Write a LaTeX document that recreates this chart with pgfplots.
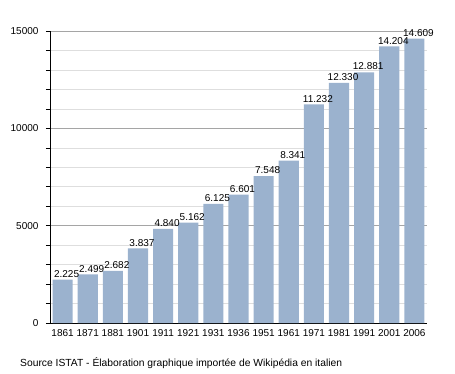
\documentclass[border=0pt]{standalone}
\usepackage{pgfplots}
\pgfplotsset{compat=1.18}
\usepackage{fontspec}
\setmainfont{Liberation Sans}
\definecolor{barblue}{RGB}{155,178,206}
\definecolor{majgrid}{RGB}{165,165,165}
\definecolor{mingrid}{RGB}{222,222,222}
\begin{document}
\begin{tikzpicture}
\path (0pt,0pt) rectangle (455pt,373pt);
\begin{axis}[
  at={(50pt,50pt)}, anchor=south west,
  scale only axis, width=377pt, height=292pt,
  xmin=-0.5, xmax=14.5, ymin=0, ymax=15000,
  axis x line*=bottom, axis y line*=left,
  axis line style={black, -},
  xtick=data,
  xticklabels={1861,1871,1881,1901,1911,1921,1931,1936,1951,1961,1971,1981,1991,2001,2006},
  x tick style={draw=none},
  ytick={0,5000,10000,15000},
  scaled y ticks=false,
  minor ytick={1000,2000,3000,4000,6000,7000,8000,9000,11000,12000,13000,14000},
  ymajorgrids, yminorgrids,
  major grid style={majgrid, line width=0.6pt},
  minor grid style={mingrid, line width=0.6pt},
  y tick style={black, line width=0.5pt},
  tick align=outside,
  major tick length=4pt, minor tick length=4pt,
  tick label style={font=\fontsize{10}{12}\selectfont},
  /pgf/number format/assume math mode=true,
  /pgf/number format/1000 sep={},
  yticklabel style={xshift=-4pt},
  xticklabel style={yshift=1pt},
  nodes near coords={\pgfmathprintnumber[assume math mode=true,1000 sep={.}]{\pgfplotspointmeta}},
  every node near coord/.append style={font=\fontsize{10}{12}\selectfont, xshift=4pt, black, inner sep=2pt},
]
\addplot[ybar, bar width=0.8, fill=barblue, draw=none] coordinates {
(0,2225) (1,2499) (2,2682) (3,3837) (4,4840) (5,5162) (6,6125) (7,6601)
(8,7548) (9,8341) (10,11232) (11,12330) (12,12881) (13,14204) (14,14609)};
\end{axis}
\node[anchor=west, inner sep=0pt, font=\fontsize{10.3}{12}\selectfont] at (20pt,10pt) {Source ISTAT - Élaboration graphique importée de Wikipédia en italien};
\end{tikzpicture}
\end{document}
